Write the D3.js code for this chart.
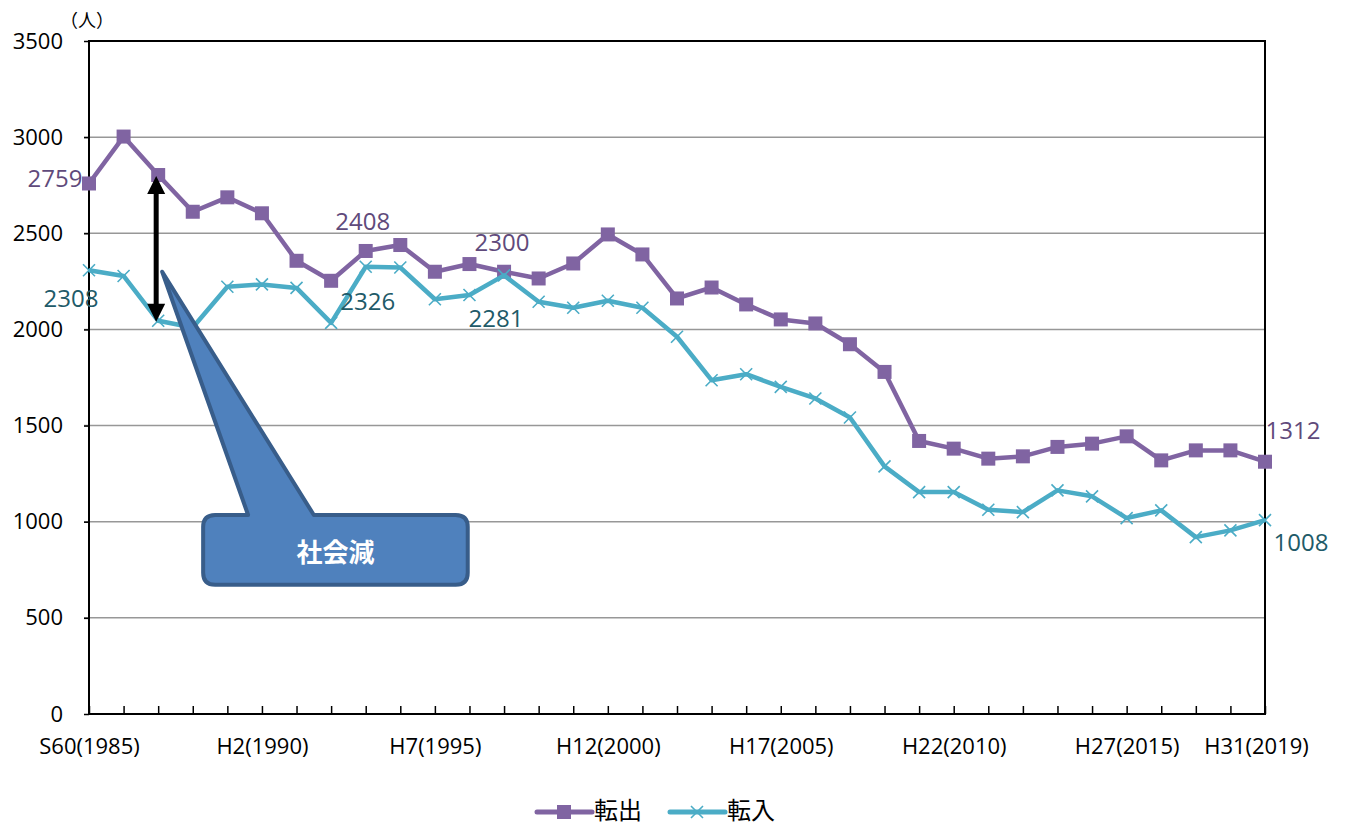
<!DOCTYPE html>
<html>
<head>
<meta charset="utf-8">
<script src="https://cdn.jsdelivr.net/npm/d3@7"></script>
<style>
body { margin: 0; background: #fff; }
svg { display: block; }
</style>
</head>
<body>
<svg id="chart" width="1346" height="826"></svg>
<script>
// years 1985 - 2019
var years = [1985,1986,1987,1988,1989,1990,1991,1992,1993,1994,1995,1996,1997,1998,1999,2000,2001,2002,2003,2004,2005,2006,2007,2008,2009,2010,2011,2012,2013,2014,2015,2016,2017,2018,2019];
var tenshutsu = [2759,3003,2803,2612,2687,2604,2357,2253,2408,2439,2300,2340,2300,2265,2343,2494,2390,2161,2218,2130,2052,2031,1923,1779,1420,1380,1328,1340,1389,1406,1444,1319,1371,1371,1312];
var tennyu = [2308,2278,2045,2010,2222,2234,2216,2034,2326,2322,2157,2179,2281,2144,2113,2149,2113,1962,1736,1767,1701,1641,1542,1288,1154,1154,1062,1050,1163,1132,1019,1059,920,955,1008];
var yTicks = [0,500,1000,1500,2000,2500,3000,3500];
var xLabels = {1985:"S60(1985)",1990:"H2(1990)",1995:"H7(1995)",2000:"H12(2000)",2005:"H17(2005)",2010:"H22(2010)",2015:"H27(2015)",2019:"H31(2019)"};
var seriesNames = ["転出","転入"];
// which points get a value label
var outLabelIdx = [0,8,12,34];
var inLabelIdx = [0,8,12,34];

var purple = "#8064A2", teal = "#4BACC6";
var purpleText = "#604A7B", tealText = "#215A68";
var latin = "'Open Sans', 'Noto Sans', sans-serif";
var cjk = "'Noto Sans CJK JP', sans-serif";

var svg = d3.select("#chart");
var pLeft = 89, pRight = 1265, pTop = 41, pBottom = 714;

var x = d3.scaleLinear().domain([years[0], years[years.length-1]]).range([pLeft, pRight]);
var y = d3.scaleLinear().domain([0, 3500]).range([pBottom, pTop]);

// gridlines
svg.append("g")
	.selectAll("line")
	.data(yTicks.filter(function(d){ return d > 0 && d < 3500; }))
	.enter().append("line")
	.attr("x1", pLeft - 5).attr("x2", pRight)
	.attr("y1", function(d){ return y(d); })
	.attr("y2", function(d){ return y(d); })
	.attr("stroke", "#979797")
	.attr("stroke-width", 1.5);

// y axis
var yAxis = svg.append("g")
	.attr("transform", "translate(" + pLeft + ",0)")
	.call(d3.axisLeft(y).tickValues(yTicks).tickFormat(d3.format("d")).tickSize(5).tickPadding(21));
yAxis.select(".domain").remove();
yAxis.selectAll("line").attr("stroke", "#000").attr("stroke-width", 1.5);
yAxis.selectAll("text")
	.attr("fill", "#000")
	.style("font-family", latin)
	.style("font-size", "22px");

// x axis
var xAxis = svg.append("g")
	.attr("transform", "translate(0," + pBottom + ")")
	.call(d3.axisBottom(x).tickValues(years).tickSize(-8).tickFormat(function(d){ return xLabels[d] || ""; }).tickPadding(24));
xAxis.select(".domain").remove();
xAxis.selectAll("line").attr("stroke", "#000").attr("stroke-width", 1.5);
xAxis.selectAll("text")
	.attr("fill", "#000")
	.attr("dx", function(d){ return d === 2019 ? -9 : 0; })
	.style("font-family", latin)
	.style("font-size", "22px");

// plot frame
svg.append("rect")
	.attr("x", pLeft).attr("y", pTop)
	.attr("width", pRight - pLeft).attr("height", pBottom - pTop)
	.attr("fill", "none")
	.attr("stroke", "#000")
	.attr("stroke-width", 2);

svg.append("text")
	.attr("x", 60).attr("y", 27)
	.style("font-family", cjk)
	.style("font-size", "18px")
	.text("（人）");

var line = d3.line()
	.x(function(d, i){ return x(years[i]); })
	.y(function(d){ return y(d); });

// 転出
svg.append("path")
	.datum(tenshutsu)
	.attr("fill", "none")
	.attr("stroke", purple)
	.attr("stroke-width", 4.5)
	.attr("stroke-linejoin", "round")
	.attr("d", line);
svg.append("g").selectAll("rect")
	.data(tenshutsu)
	.enter().append("rect")
	.attr("x", function(d, i){ return x(years[i]) - 7; })
	.attr("y", function(d){ return y(d) - 7; })
	.attr("width", 14).attr("height", 14)
	.attr("fill", purple);

// 転入
svg.append("path")
	.datum(tennyu)
	.attr("fill", "none")
	.attr("stroke", teal)
	.attr("stroke-width", 4.5)
	.attr("stroke-linejoin", "round")
	.attr("d", line);
svg.append("g").selectAll("path")
	.data(tennyu)
	.enter().append("path")
	.attr("transform", function(d, i){ return "translate(" + x(years[i]) + "," + y(d) + ")"; })
	.attr("d", "M-6,-6L6,6M-6,6L6,-6")
	.attr("stroke", teal)
	.attr("stroke-width", 1.6);

// value labels
var outOffsets = {0:[-34,-3], 8:[-3,-27], 12:[-2,-27], 34:[28,-29]};
var inOffsets = {0:[-18,30], 8:[2,37], 12:[-8,45], 34:[36,24]};
svg.append("g").selectAll("text")
	.data(outLabelIdx)
	.enter().append("text")
	.attr("x", function(i){ return x(years[i]) + outOffsets[i][0]; })
	.attr("y", function(i){ return y(tenshutsu[i]) + outOffsets[i][1]; })
	.attr("text-anchor", "middle")
	.attr("dominant-baseline", "middle")
	.attr("fill", purpleText)
	.style("font-family", latin)
	.style("font-size", "24px")
	.text(function(i){ return tenshutsu[i]; });
svg.append("g").selectAll("text")
	.data(inLabelIdx)
	.enter().append("text")
	.attr("x", function(i){ return x(years[i]) + inOffsets[i][0]; })
	.attr("y", function(i){ return y(tennyu[i]) + inOffsets[i][1]; })
	.attr("text-anchor", "middle")
	.attr("dominant-baseline", "middle")
	.attr("fill", tealText)
	.style("font-family", latin)
	.style("font-size", "24px")
	.text(function(i){ return tennyu[i]; });

// double arrow 社会減 between the two series in 1987
var ax = x(years[2]) - 2, ay1 = y(tenshutsu[2]) + 1, ay2 = y(tennyu[2]) + 1;
svg.append("line")
	.attr("x1", ax).attr("x2", ax)
	.attr("y1", ay1 + 16).attr("y2", ay2 - 16)
	.attr("stroke", "#000")
	.attr("stroke-width", 5);
svg.append("path")
	.attr("d", "M" + ax + "," + ay1 + "l-9,18h18z M" + ax + "," + ay2 + "l-9,-18h18z")
	.attr("fill", "#000");

// callout
var cx0 = x(1988.3), cx1 = x(1995.95), cy0 = y(1035), cy1 = y(672);
var tipX = x(years[2]) + 4, tipY = y(2300);
var b0 = x(1989.6), b1 = x(1991.5), r = 12;
var callout = "M" + (cx0 + r) + "," + cy0 +
	"H" + b0 + "L" + tipX + "," + tipY + "L" + b1 + "," + cy0 +
	"H" + (cx1 - r) + "Q" + cx1 + "," + cy0 + " " + cx1 + "," + (cy0 + r) +
	"V" + (cy1 - r) + "Q" + cx1 + "," + cy1 + " " + (cx1 - r) + "," + cy1 +
	"H" + (cx0 + r) + "Q" + cx0 + "," + cy1 + " " + cx0 + "," + (cy1 - r) +
	"V" + (cy0 + r) + "Q" + cx0 + "," + cy0 + " " + (cx0 + r) + "," + cy0 + "Z";
svg.append("path")
	.attr("d", callout)
	.attr("fill", "#4F81BD")
	.attr("stroke", "#385D8A")
	.attr("stroke-width", 4)
	.attr("stroke-linejoin", "round");
svg.append("text")
	.attr("x", (cx0 + cx1) / 2).attr("y", (cy0 + cy1) / 2 + 5)
	.attr("text-anchor", "middle")
	.attr("dominant-baseline", "middle")
	.attr("fill", "#fff")
	.style("font-family", cjk)
	.style("font-weight", "bold")
	.style("font-size", "26px")
	.text("社会減");

// legend
var legend = svg.append("g").attr("transform", "translate(537,812)");
var lg = legend.selectAll("g")
	.data(seriesNames)
	.enter().append("g")
	.attr("transform", function(d, i){ return "translate(" + (i * 133) + ",0)"; });
lg.append("line")
	.attr("x1", 0).attr("x2", 55)
	.attr("stroke", function(d, i){ return i === 0 ? purple : teal; })
	.attr("stroke-width", 5)
	.attr("stroke-linecap", "round");
lg.filter(function(d, i){ return i === 0; }).append("rect")
	.attr("x", 20).attr("y", -7).attr("width", 14).attr("height", 14)
	.attr("fill", purple);
lg.filter(function(d, i){ return i === 1; }).append("path")
	.attr("d", "M21,-6L33,6M21,6L33,-6")
	.attr("stroke", teal)
	.attr("stroke-width", 1.6);
lg.append("text")
	.attr("x", 57).attr("y", 0)
	.attr("dominant-baseline", "middle")
	.style("font-family", cjk)
	.style("font-size", "24px")
	.text(function(d){ return d; });
</script>
</body>
</html>
